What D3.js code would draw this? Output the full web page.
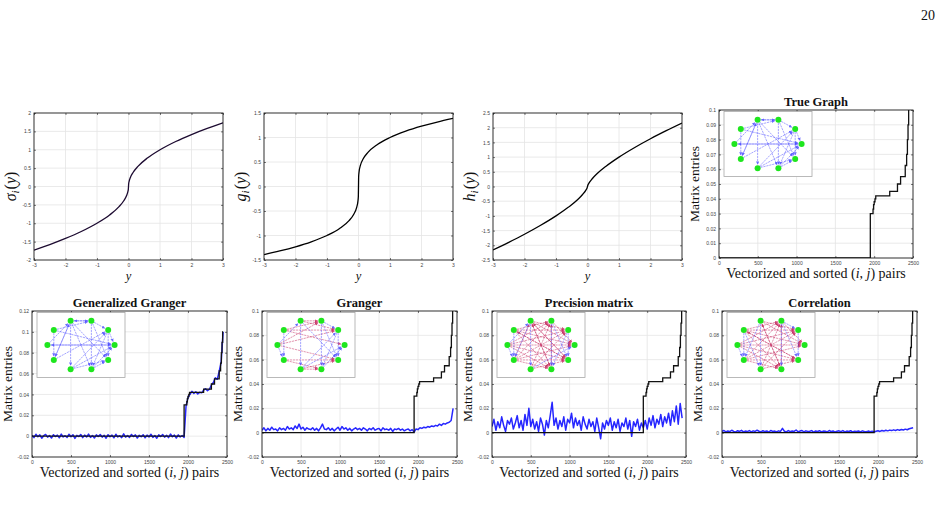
<!DOCTYPE html>
<html>
<head>
<meta charset="utf-8">
<script src="https://cdn.jsdelivr.net/npm/d3@7"></script>
<style>
  body { margin: 0; background: #fff; }
  svg { display: block; }
  .tick text { font-family: "Liberation Sans", Arial, sans-serif; font-size: 5px; fill: #444; }
  .serif { font-family: "Liberation Serif", "Times New Roman", serif; }
</style>
</head>
<body>
<script>
// ---- data -------------------------------------------------------------

// top row: nonlinear transfer curves
const curveY   = [-3, -2.5, -2, -1.5, -1, -0.6, -0.3, -0.15, -0.06, -0.02, -0.005, 0,
                  0.005, 0.02, 0.06, 0.15, 0.3, 0.6, 1, 1.5, 2, 2.5, 3];
const sigmaVal = [-1.732, -1.581, -1.414, -1.225, -1, -0.775, -0.548, -0.387, -0.245, -0.141, -0.071, 0,
                  0.071, 0.141, 0.245, 0.387, 0.548, 0.775, 1, 1.225, 1.414, 1.581, 1.732];
const gVal     = [-1.39, -1.316, -1.231, -1.129, -1, -0.858, -0.697, -0.566, -0.43, -0.309, -0.204, 0,
                  0.204, 0.309, 0.43, 0.566, 0.697, 0.858, 1, 1.129, 1.231, 1.316, 1.39];
const hVal     = [-2.158, -1.899, -1.625, -1.328, -1, -0.699, -0.431, -0.265, -0.14, -0.065, -0.024, 0,
                  0.024, 0.065, 0.14, 0.265, 0.431, 0.699, 1, 1.328, 1.625, 1.899, 2.158];

const curveXTicks = [-3, -2, -1, 0, 1, 2, 3];
const sigmaTicks  = [-2, -1.5, -1, -0.5, 0, 0.5, 1, 1.5, 2];
const gTicks      = [-1.5, -1, -0.5, 0, 0.5, 1, 1.5];
const hTicks      = [-2.5, -2, -1.5, -1, -0.5, 0, 0.5, 1, 1.5, 2, 2.5];

// sorted true matrix entries (step curve)
const trueStepX = [0, 1950, 1985, 1992, 2000, 2010, 2020, 2200, 2300, 2340, 2400, 2418, 2428, 2436, 2444, 2450];
const trueStepY = [0, 0.030, 0.033, 0.036, 0.038, 0.040, 0.042, 0.045, 0.050, 0.055, 0.0625, 0.070, 0.080, 0.090, 0.100, 0.100];

// estimated entries, one value every 25 pairs (0 .. 2450), in units of 1e-3
const pairStep = 25;
const genGrangerEst = [
  0.8,-1.4,1.8,-0.6,1.2,-2.0,0.4,1.6,-1.0,0.6,
  -1.8,1.4,-0.4,1.0,-1.6,2.0,-0.8,0.4,-1.2,1.8,
  -0.6,1.4,-2.2,0.8,-0.4,1.6,-1.4,1.0,-0.8,2.0,
  -1.2,0.6,-1.8,1.2,-0.4,1.6,-1.0,0.8,-2.0,1.4,
  -0.6,1.0,-1.6,1.8,-0.8,0.4,-1.4,2.2,-1.0,0.6,
  -1.2,1.6,-0.4,1.2,-1.8,0.8,-0.6,1.4,-1.6,1.0,
  -0.8,1.8,-1.2,0.6,-2.0,1.2,-0.4,1.6,-1.0,0.8,
  -1.4,2.0,-0.6,1.0,-1.8,1.2,-0.8,0.6,-1.2,
  29,37,40,43,41,42.5,40.5,42,41.5,44,45.5,43.5,45,49,51.5,56,54.5,62,71,100];
const grangerEst = [
  2,4,1.5,3.5,2,4.5,2.5,3,1.5,4,
  2.5,3.5,2,5,3,4,2.5,5.5,3.5,7,
  3,4.5,2,4,3,2.5,4,2,3.5,1.5,
  4,7,3,2.5,4,2,3.5,1.5,3,4.5,
  2,5,3,4,2,3.5,1.5,3,4,2.5,
  3.5,2,4,3,1.5,3.5,2.5,4,2,3,
  3.5,1.5,4,2.5,3,2,3.5,1,3,2.5,
  3.5,2,3,1.5,2.5,3,1.5,2.5,0.5,
  3,2.5,4,3.5,4.5,4,5,4.5,5.5,5,6,5.5,7,6,7.5,7,8,8.5,10,20];
const precisionEst = [
  5,11,2,9,4,13,6,1,10,7,
  12,3,8,14,4,10,2,15,6,20,
  5,11,3,9,1,12,7,-2,10,4,
  14,25,6,12,3,10,5,13,2,11,
  8,16,4,12,6,10,2,13,7,3,
  11,5,9,1,12,4,-5,8,3,10,
  6,12,2,9,4,11,1,8,5,12,
  3,10,-3,9,5,11,2,8,4,
  10,3,12,6,14,4,11,7,15,5,13,8,16,6,18,9,22,7,24,12];
const correlationEst = [
  1,1.8,0.6,1.4,0.8,2,1.1,0.5,1.6,1,
  1.9,0.7,1.3,0.9,1.7,0.6,1.5,1,2,1.2,
  0.6,1.6,0.9,1.4,0.5,1.8,1,1.3,0.7,1.5,
  1,3.5,1.2,0.6,1.7,0.8,1.4,1,2.2,0.7,
  1.3,1.8,0.6,1.5,0.9,1.2,1.7,0.5,1.4,1,
  1.6,0.7,1.3,1.1,0.6,1.8,0.9,1.4,0.5,1.2,
  1.5,0.8,1.7,0.6,1.3,1,1.6,0.5,1.2,0.9,
  1.4,0.6,1.5,1,0.7,1.3,0.8,1.2,0.5,
  1.2,1.6,1,1.8,1.3,2,1.5,2.1,1.7,2.3,1.8,2.5,2,2.6,2.2,2.9,2.4,3.2,3.6,4];

const pairTicks  = [0, 500, 1000, 1500, 2000, 2500];
const trueTicks  = [0, 0.01, 0.02, 0.03, 0.04, 0.05, 0.06, 0.07, 0.08, 0.09, 0.1];
const ggTicks    = [-0.02, 0, 0.02, 0.04, 0.06, 0.08, 0.1, 0.12];
const estTicks   = [-0.02, 0, 0.02, 0.04, 0.06, 0.08, 0.1];

// graph insets: 10 nodes on a ring, directed edges [from, to]
const trueEdges = [[3,2],[2,3],[3,7],[3,6],[4,6],[4,2],[5,0],[0,5],[5,3],[6,3],[3,9],[3,8],
                   [2,1],[2,9],[2,8],[1,0],[1,9],[1,8],[7,9],[7,0],[8,0],[8,9],[7,1],[6,1],[4,0]];
const grangerBlue = [[3,7],[2,9],[2,8],[1,9],[5,6],[4,6],[3,9],[7,0],[8,0],[1,8],[2,1],[5,3],[7,1]];
const grangerRed  = [[4,2],[4,1],[3,1],[5,2],[5,1],[4,0],[6,9],[6,8],[7,8],[7,9],[3,2],[5,9]];
const precisionBlue = [[3,7],[2,8],[2,9],[1,9],[4,6],[3,6],[5,6],[1,8],[7,0],[5,3]];
const precisionRed  = [[4,2],[4,1],[4,0],[4,9],[3,1],[3,0],[3,9],[5,2],[5,1],[5,0],[5,9],[5,8],
                       [6,2],[6,1],[6,0],[6,9],[6,8],[7,1],[7,9],[8,2],[8,3],[9,3],[9,4],
                       [2,0],[4,8],[3,8],[7,2],[6,3]];
const corrBlue = [[3,7],[2,8],[2,9],[4,6],[3,6],[2,1],[1,9],[5,6],[4,7]];
const corrRed  = [[4,2],[4,1],[4,0],[4,9],[3,1],[3,0],[5,2],[5,1],[5,0],[5,9],[6,1],[6,0],
                  [6,9],[6,8],[7,1],[7,9],[8,2],[8,3],[9,4],[2,0],[4,8],[3,8],[7,2],[6,2],[5,8]];

// ---- drawing ----------------------------------------------------------

const BLUE = "#0000ff";
const EDGE_BLUE = "#4646ff";
const EDGE_RED  = "#c4245a";
const GREEN = "#1ee61e";

const svg = d3.select("body").append("svg")
  .attr("width", 944).attr("height", 527);

const defs = svg.append("defs");
[["arrB", EDGE_BLUE], ["arrR", EDGE_RED]].forEach(([id, c]) => {
  defs.append("marker")
    .attr("id", id).attr("viewBox", "0 0 4 4")
    .attr("refX", 4).attr("refY", 2)
    .attr("markerWidth", 3.2).attr("markerHeight", 3.2)
    .attr("markerUnits", "userSpaceOnUse")
    .attr("orient", "auto")
    .append("path").attr("d", "M0,0L4,2L0,4z").attr("fill", c);
});

let clipId = 0;

function frame(box, xd, yd, xt, yt) {
  const w = box.x1 - box.x0, h = box.y1 - box.y0;
  const g = svg.append("g").attr("transform", `translate(${box.x0},${box.y0})`);
  const x = d3.scaleLinear().domain(xd).range([0, w]);
  const y = d3.scaleLinear().domain(yd).range([h, 0]);

  g.append("rect").attr("width", w).attr("height", h).attr("fill", "#fff");

  // grid
  g.append("g").selectAll("line").data(xt.slice(1, -1)).join("line")
    .attr("x1", d => x(d)).attr("x2", d => x(d)).attr("y1", 0).attr("y2", h)
    .attr("stroke", "#e4e4e4").attr("stroke-width", 0.8);
  g.append("g").selectAll("line").data(yt.slice(1, -1)).join("line")
    .attr("y1", d => y(d)).attr("y2", d => y(d)).attr("x1", 0).attr("x2", w)
    .attr("stroke", "#e4e4e4").attr("stroke-width", 0.8);

  const fmt = d => String(d);
  const ax = [
    g.append("g").attr("transform", `translate(0,${h})`)
      .call(d3.axisBottom(x).tickValues(xt).tickFormat(fmt).tickSizeInner(-2).tickSizeOuter(0).tickPadding(3)),
    g.append("g")
      .call(d3.axisLeft(y).tickValues(yt).tickFormat(fmt).tickSizeInner(-2).tickSizeOuter(0).tickPadding(3)),
    g.append("g")
      .call(d3.axisTop(x).tickValues(xt).tickFormat("").tickSizeInner(-2).tickSizeOuter(0)),
    g.append("g").attr("transform", `translate(${w},0)`)
      .call(d3.axisRight(y).tickValues(yt).tickFormat("").tickSizeInner(-2).tickSizeOuter(0))
  ];
  ax.forEach(a => {
    a.select(".domain").remove();
    a.selectAll(".tick line").attr("stroke", "#222").attr("stroke-width", 0.6);
  });

  const id = "clip" + (clipId++);
  defs.append("clipPath").attr("id", id)
    .append("rect").attr("width", w).attr("height", h);
  const plot = g.append("g").attr("clip-path", `url(#${id})`);

  // box drawn last
  const top = g.append("g");
  top.append("rect").attr("width", w).attr("height", h)
    .attr("fill", "none").attr("stroke", "#1a1a1a").attr("stroke-width", 0.9);

  return { g, plot, top, x, y, w, h };
}

function yLabel(g, xPos, yMid, size, build) {
  const t = g.append("text").attr("class", "serif")
    .attr("transform", `translate(${xPos},${yMid}) rotate(-90)`)
    .attr("text-anchor", "middle").attr("font-size", size).attr("fill", "#111");
  build(t);
}

// ---- top row: transfer curves ----
const topPanels = [
  { box: { x0: 34, x1: 223, y0: 113, y1: 260 }, vals: sigmaVal, ticks: sigmaTicks, name: "σ", color: "#1c0a30" },
  { box: { x0: 264, x1: 453, y0: 113, y1: 260 }, vals: gVal, ticks: gTicks, name: "g", color: "#000" },
  { box: { x0: 493, x1: 682, y0: 113, y1: 260 }, vals: hVal, ticks: hTicks, name: "h", color: "#000" }
];

topPanels.forEach(p => {
  const yd = [p.ticks[0], p.ticks[p.ticks.length - 1]];
  const f = frame(p.box, [-3, 3], yd, curveXTicks, p.ticks);
  const line = d3.line().x((d, i) => f.x(curveY[i])).y(d => f.y(d)).curve(d3.curveMonotoneX);
  f.plot.append("path").datum(p.vals)
    .attr("d", line).attr("fill", "none")
    .attr("stroke", p.color).attr("stroke-width", 1.3);

  yLabel(f.g, -18, f.h / 2, 16, t => {
    t.append("tspan").attr("font-style", "italic").text(p.name);
    t.append("tspan").attr("font-style", "italic").attr("font-size", 11).attr("dy", 3).text("i");
    t.append("tspan").attr("dy", -3).attr("dx", 1).text("(");
    t.append("tspan").attr("font-style", "italic").text("y");
    t.append("tspan").text(")");
  });
  f.g.append("text").attr("class", "serif")
    .attr("x", f.w / 2).attr("y", f.h + 20)
    .attr("text-anchor", "middle").attr("font-size", 12.5).attr("font-style", "italic")
    .attr("fill", "#111").text("y");
});

// ---- graph inset ----
function inset(f, blue, red) {
  const bw = 88, bh = 65;
  const gi = f.top.append("g").attr("transform", "translate(5,1.5)");
  gi.append("rect").attr("width", bw).attr("height", bh)
    .attr("fill", "#fff").attr("stroke", "#a8a8a8").attr("stroke-width", 0.8);
  const cx = bw / 2, cy = bh / 2, rx = 33.6, ry = 25.4, r = 3;
  const node = k => {
    const a = k * Math.PI / 5;
    return [cx + rx * Math.cos(a), cy - ry * Math.sin(a)];
  };
  const edge = (list, color, marker) => {
    gi.append("g").selectAll("line").data(list).join("line")
      .each(function ([a, b]) {
        const [x1, y1] = node(a), [x2, y2] = node(b);
        const L = Math.hypot(x2 - x1, y2 - y1);
        const ux = (x2 - x1) / L, uy = (y2 - y1) / L;
        d3.select(this)
          .attr("x1", x1 + ux * r).attr("y1", y1 + uy * r)
          .attr("x2", x2 - ux * (r + 0.5)).attr("y2", y2 - uy * (r + 0.5));
      })
      .attr("stroke", color).attr("stroke-width", 0.6)
      .attr("stroke-dasharray", "2.2 0.8").attr("opacity", 0.8)
      .attr("marker-end", `url(#${marker})`);
  };
  edge(red, EDGE_RED, "arrR");
  edge(blue, EDGE_BLUE, "arrB");
  gi.append("g").selectAll("circle").data(d3.range(10)).join("circle")
    .attr("cx", k => node(k)[0]).attr("cy", k => node(k)[1])
    .attr("r", r).attr("fill", GREEN);
}

function pairLabels(f, title) {
  f.g.append("text").attr("class", "serif")
    .attr("x", f.w / 2).attr("y", -4)
    .attr("text-anchor", "middle").attr("font-size", 12.5).attr("font-weight", "bold")
    .attr("fill", "#111").text(title);
  const t = f.g.append("text").attr("class", "serif")
    .attr("x", f.w / 2).attr("y", f.h + 20)
    .attr("text-anchor", "middle").attr("font-size", 14).attr("fill", "#111");
  t.append("tspan").text("Vectorized and sorted (");
  t.append("tspan").attr("font-style", "italic").text("i");
  t.append("tspan").text(", ");
  t.append("tspan").attr("font-style", "italic").text("j");
  t.append("tspan").text(") pairs");
  yLabel(f.g, -20, f.h / 2, 13.5, s => s.text("Matrix entries"));
}

function trueLine(f) {
  const line = d3.line().x((d, i) => f.x(trueStepX[i])).y(d => f.y(d)).curve(d3.curveStepAfter);
  f.plot.append("path").datum(trueStepY)
    .attr("d", line).attr("fill", "none")
    .attr("stroke", "#111").attr("stroke-width", 1.3);
}

function estLine(f, vals) {
  const line = d3.line().x((d, i) => f.x(i * pairStep)).y(d => f.y(d / 1000));
  f.plot.append("path").datum(vals)
    .attr("d", line).attr("fill", "none")
    .attr("stroke", BLUE).attr("stroke-width", 1.5).attr("opacity", 0.85)
    .attr("stroke-linejoin", "round");
}

// True Graph
{
  const f = frame({ x0: 719, x1: 913, y0: 110, y1: 258 }, [0, 2500], [0, 0.1], pairTicks, trueTicks);
  trueLine(f);
  inset(f, trueEdges, []);
  pairLabels(f, "True Graph");
}

const bottomPanels = [
  { box: { x0: 32, x1: 227, y0: 311, y1: 457 }, title: "Generalized Granger", ticks: ggTicks, est: genGrangerEst, blue: trueEdges, red: [] },
  { box: { x0: 262, x1: 457, y0: 311, y1: 457 }, title: "Granger", ticks: estTicks, est: grangerEst, blue: grangerBlue, red: grangerRed },
  { box: { x0: 492, x1: 686, y0: 311, y1: 457 }, title: "Precision matrix", ticks: estTicks, est: precisionEst, blue: precisionBlue, red: precisionRed },
  { box: { x0: 722, x1: 917, y0: 311, y1: 457 }, title: "Correlation", ticks: estTicks, est: correlationEst, blue: corrBlue, red: corrRed }
];

bottomPanels.forEach(p => {
  const yd = [p.ticks[0], p.ticks[p.ticks.length - 1]];
  const f = frame(p.box, [0, 2500], yd, pairTicks, p.ticks);
  estLine(f, p.est);
  trueLine(f);
  inset(f, p.blue, p.red);
  pairLabels(f, p.title);
});

// page number
svg.append("text").attr("class", "serif")
  .attr("x", 935).attr("y", 20).attr("text-anchor", "end")
  .attr("font-size", 14).attr("fill", "#111").text("20");
</script>
</body>
</html>
